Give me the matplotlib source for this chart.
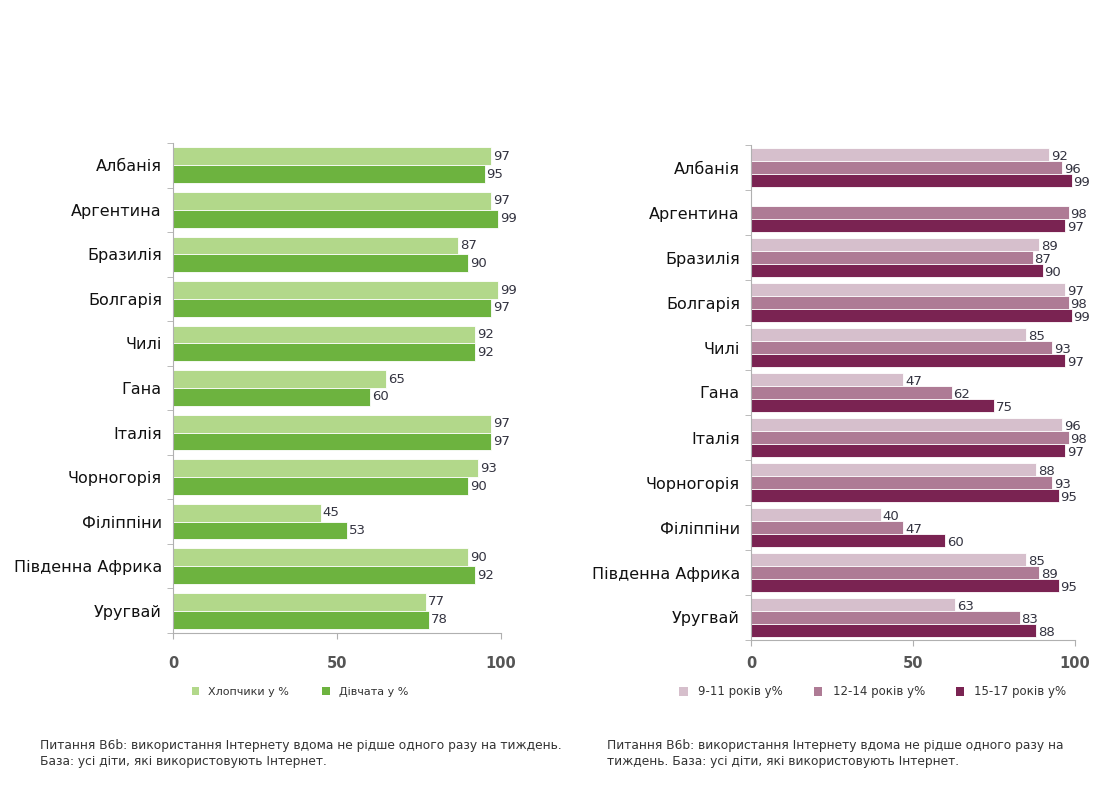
import numpy as np
import matplotlib
matplotlib.use("Agg")
import matplotlib.pyplot as plt
from matplotlib.patches import Patch

plt.rcParams['font.family'] = ['DejaVu Sans']

countries = ["Албанія", "Аргентина", "Бразилія", "Болгарія", "Чилі", "Гана",
             "Італія", "Чорногорія", "Філіппіни", "Південна Африка", "Уругвай"]

boys = [97, 97, 87, 99, 92, 65, 97, 93, 45, 90, 77]
girls = [95, 99, 90, 97, 92, 60, 97, 90, 53, 92, 78]

age_9_11 = [92, np.nan, 89, 97, 85, 47, 96, 88, 40, 85, 63]
age_12_14 = [96, 98, 87, 98, 93, 62, 98, 93, 47, 89, 83]
age_15_17 = [99, 97, 90, 99, 97, 75, 97, 95, 60, 95, 88]

left_names = ["Хлопчики у %", "Дівчата у %"]
right_names = ["9-11 років у%", "12-14 років у%", "15-17 років у%"]

green_cols = ["#b2d88a", "#6db33f"]
plum_cols = ["#d6bfcc", "#ae7b95", "#7a2352"]

W, H = 1108, 785
fig = plt.figure(figsize=(W / 100, H / 100), dpi=100)
fig.patch.set_facecolor("white")


def frac_box(x0, x1, ytop, ybot):
    return [x0 / W, 1 - ybot / H, (x1 - x0) / W, (ybot - ytop) / H]


def style_axes(ax, n, pad):
    ax.set_xlim(0, 100)
    ax.set_ylim(n - 0.5, -0.5)
    for s in ["top", "right"]:
        ax.spines[s].set_visible(False)
    for s in ["left", "bottom"]:
        ax.spines[s].set_color("#b0b0b0")
        ax.spines[s].set_linewidth(0.8)
    ax.set_yticks(np.arange(n))
    ax.set_yticklabels(countries, fontsize=11.5, color="#111111")
    ax.tick_params(axis="y", length=0, pad=8)
    ax.set_yticks(np.arange(n + 1) - 0.5, minor=True)
    ax.tick_params(axis="y", which="minor", length=4, color="#b0b0b0", direction="out")
    ax.set_xticks([0, 50, 100])
    ax.set_xticklabels(["0", "50", "100"], fontsize=10.5, color="#555555",
                       fontweight="bold")
    ax.tick_params(axis="x", length=4, color="#b0b0b0", pad=pad)
    ax.set_facecolor("white")


n = len(countries)
y = np.arange(n)

# Left chart
axL = fig.add_axes(frac_box(173, 501, 143, 633))
bh = 0.4
for i, (vals, col) in enumerate(zip([boys, girls], green_cols)):
    pos = y - bh / 2 + i * bh
    axL.barh(pos, vals, height=bh, color=col, edgecolor="white", linewidth=0.6)
    for p, v in zip(pos, vals):
        if not np.isnan(v):
            axL.text(v + 0.6, p, f"{v:.0f}", va="center", ha="left",
                     fontsize=9.5, color="#333340")
style_axes(axL, n, 12.5)

# Right chart
axR = fig.add_axes(frac_box(751, 1075, 145, 640))
bh3 = 0.29
for i, (vals, col) in enumerate(zip([age_9_11, age_12_14, age_15_17], plum_cols)):
    pos = y - bh3 + i * bh3
    axR.barh(pos, vals, height=bh3, color=col, edgecolor="white", linewidth=0.6)
    for p, v in zip(pos, vals):
        if not np.isnan(v):
            axR.text(v + 0.5, p + 0.05, f"{v:.0f}", va="center", ha="left",
                     fontsize=9.5, color="#333340")
style_axes(axR, n, 7.5)

# Legends
hL = [Patch(facecolor=c, edgecolor="none") for c in green_cols]
fig.legend(hL, left_names, loc="center", bbox_to_anchor=(300 / W, 1 - 692 / H),
           ncol=2, frameon=False, fontsize=8, handlelength=0.7, handleheight=0.7,
           columnspacing=3.0, handletextpad=0.8, labelcolor="#333333")
hR = [Patch(facecolor=c, edgecolor="none") for c in plum_cols]
fig.legend(hR, right_names, loc="center", bbox_to_anchor=(873 / W, 1 - 692 / H),
           ncol=3, frameon=False, fontsize=8.5, handlelength=0.7, handleheight=0.7,
           columnspacing=2.6, handletextpad=0.9, labelcolor="#333333")

# Footnotes
fig.text(40 / W, 1 - 753 / H,
         "Питання B6b: використання Інтернету вдома не рідше одного разу на тиждень.\n"
         "База: усі діти, які використовують Інтернет.",
         fontsize=8.8, color="#333333", va="center", ha="left", linespacing=1.3)
fig.text(607 / W, 1 - 753 / H,
         "Питання B6b: використання Інтернету вдома не рідше одного разу на\n"
         "тиждень. База: усі діти, які використовують Інтернет.",
         fontsize=8.8, color="#333333", va="center", ha="left", linespacing=1.3)

fig.savefig("out.png", dpi=100, facecolor="white")
